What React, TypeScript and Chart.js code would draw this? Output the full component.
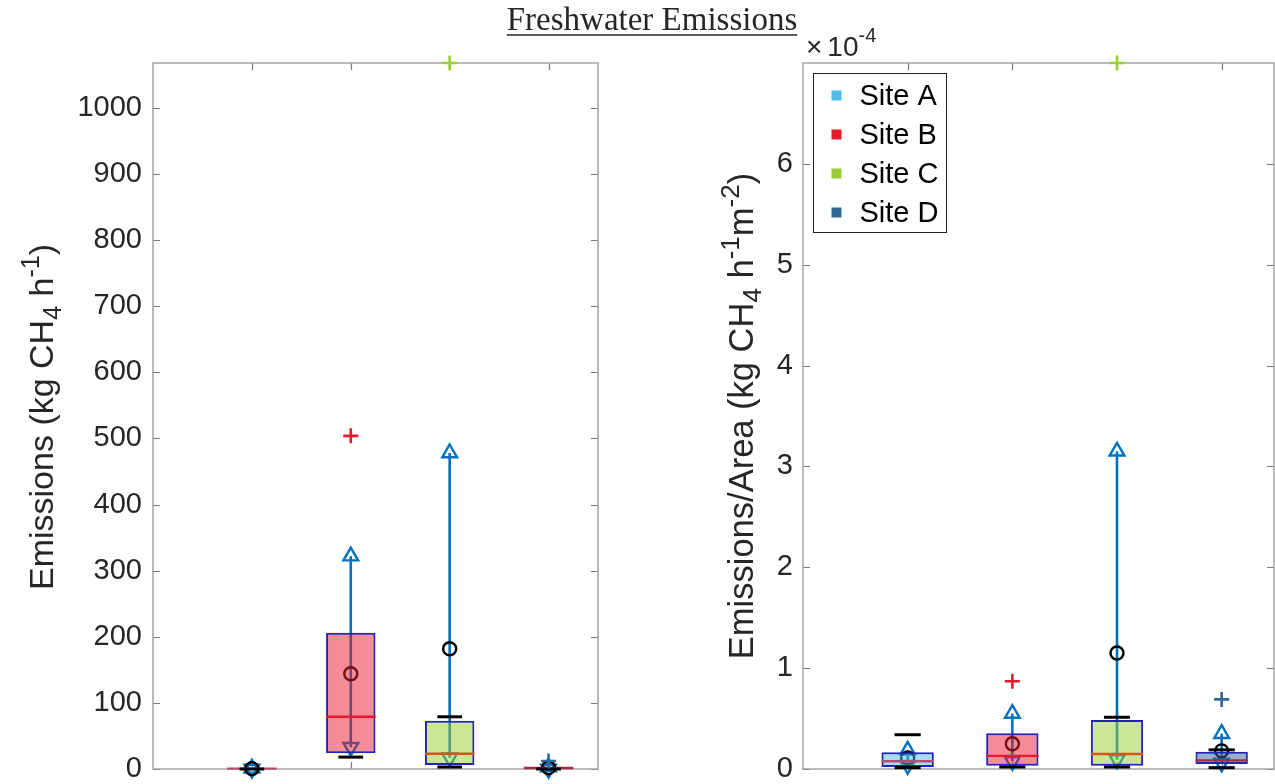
import React, { useEffect, useRef } from 'react';
import { Chart, registerables } from 'chart.js';

Chart.register(...registerables);

const W = 1275;
const H = 784;
const EXTRA = 20; // canvas extends below the clipped viewport so tick-label padding fits

// ---------- shared categories ----------
const siteNames = ['Site A', 'Site B', 'Site C', 'Site D'];
const sitePositions = [1, 2, 3, 4];
const siteColors = ['#4DBEEE', '#E8192C', '#9ACD32', '#336699'];
const medianColors = ['#B4506E', '#E8192C', '#D95319', '#A8283F'];
const xTicks = [1, 2, 3, 4];
const xMin = 0;
const xMax = 4.5;

// ---------- left panel: Emissions (kg CH4 h^-1) ----------
const emYTicks = [0, 100, 200, 300, 400, 500, 600, 700, 800, 900, 1000];
const emYMax = 1068;
const emQ1 = [0, 24, 6, 0];
const emQ3 = [1.2, 206, 73, 3];
const emMedian = [0.5, 79, 23, 1.5];
const emMean = [0.5, 144, 182, 2];
const emCiLow = [0, 33, 17, 0];
const emCiHigh = [1, 322, 478, 3];
const emCapLow = [0, 18, 3, 0];
const emCapHigh = [null, null, 79, null];
const emOutliers = [[], [504], [1068], [12]];

// ---------- right panel: Emissions/Area (kg CH4 h^-1 m^-2) ----------
const areaYTicks = [0, 1e-4, 2e-4, 3e-4, 4e-4, 5e-4, 6e-4];
const areaYMax = 7.0e-4;
const areaQ1 = [0.02e-4, 0.033e-4, 0.033e-4, 0.05e-4];
const areaQ3 = [0.165e-4, 0.355e-4, 0.487e-4, 0.17e-4];
const areaMedian = [0.077e-4, 0.13e-4, 0.149e-4, 0.086e-4];
const areaMean = [0.11e-4, 0.25e-4, 1.15e-4, 0.18e-4];
const areaCiLow = [0.037e-4, 0.077e-4, 0.093e-4, 0.06e-4];
const areaCiHigh = [0.185e-4, 0.55e-4, 3.15e-4, 0.35e-4];
const areaCapLow = [0.013e-4, 0.02e-4, 0.02e-4, 0.013e-4];
const areaCapHigh = [0.34e-4, null, 0.513e-4, 0.19e-4];
const areaOutliers = [[], [0.87e-4], [7.0e-4], [0.69e-4]];

// ---------- texts ----------
const figureTitle = 'Freshwater Emissions';
const leftYTitle = [
  { t: 'Emissions (kg CH', s: 'n' },
  { t: '4', s: 'sub' },
  { t: ' h', s: 'n' },
  { t: '-1', s: 'sup' },
  { t: ')', s: 'n' },
];
const rightYTitle = [
  { t: 'Emissions/Area (kg CH', s: 'n' },
  { t: '4', s: 'sub' },
  { t: ' h', s: 'n' },
  { t: '-1', s: 'sup' },
  { t: 'm', s: 'n' },
  { t: '-2', s: 'sup' },
  { t: ')', s: 'n' },
];

const SANS = '"Liberation Sans", Arial, Helvetica, sans-serif';
const SERIF = '"Liberation Serif", "Times New Roman", serif';
const TEXT = '#262626';
const CI_COLOR = '#0072BD';
const BOX_EDGE = '#2323B4';
const FRAME = '#9E9E9E';
const TICKMARK = '#7A7A7A';

function rgba(hex: string, a: number) {
  const n = parseInt(hex.slice(1), 16);
  return `rgba(${(n >> 16) & 255},${(n >> 8) & 255},${n & 255},${a})`;
}

const halfWidthPx = (frac: number) => (ctx: any) => {
  const xs = ctx.chart.scales.x;
  return Math.abs(xs.getPixelForValue(1 + frac) - xs.getPixelForValue(1));
};

function drawRichVertical(ctx: CanvasRenderingContext2D, parts: any[], cx: number, cy: number, size: number) {
  ctx.save();
  ctx.translate(cx, cy);
  ctx.rotate(-Math.PI / 2);
  ctx.fillStyle = TEXT;
  ctx.textBaseline = 'alphabetic';
  ctx.textAlign = 'left';
  const fontFor = (p: any) => `${p.s === 'n' ? size : Math.round(size * 0.74)}px ${SANS}`;
  let total = 0;
  const widths = parts.map((p) => {
    ctx.font = fontFor(p);
    const w = ctx.measureText(p.t).width;
    total += w;
    return w;
  });
  let x = -total / 2;
  const base = size * 0.36;
  parts.forEach((p, i) => {
    ctx.font = fontFor(p);
    let y = base;
    if (p.s === 'sub') y = base + size * 0.22;
    if (p.s === 'sup') y = base - size * 0.42;
    ctx.fillText(p.t, x, y);
    x += widths[i];
  });
  ctx.restore();
}

const framePlugin = {
  id: 'matlabFrame',
  beforeDatasetsDraw(chart: any) {
    const { ctx, chartArea } = chart;
    const { left, right, top, bottom } = chartArea;
    const ys = chart.scales.y;
    const xs = chart.scales.x;
    ctx.save();
    ctx.strokeStyle = TICKMARK;
    ctx.lineWidth = 1.2;
    ctx.beginPath();
    ys.ticks.forEach((t: any) => {
      const py = Math.round(ys.getPixelForValue(t.value)) + 0.5;
      ctx.moveTo(left, py);
      ctx.lineTo(left + 7, py);
      ctx.moveTo(right, py);
      ctx.lineTo(right - 7, py);
    });
    xs.ticks.forEach((t: any) => {
      const px = Math.round(xs.getPixelForValue(t.value)) + 0.5;
      ctx.moveTo(px, top);
      ctx.lineTo(px, top + 7);
      ctx.moveTo(px, bottom);
      ctx.lineTo(px, bottom - 7);
    });
    ctx.stroke();
    ctx.strokeStyle = FRAME;
    ctx.lineWidth = 1.4;
    ctx.strokeRect(left, top, right - left, bottom - top);
    ctx.restore();
  },
};

function makeConfig(p: any) {
  const pts = (vals: any[]) =>
    sitePositions
      .map((x, i) => ({ x, y: vals[i] }))
      .filter((d) => d.y !== null && d.y !== undefined);
  const capPts = [...pts(p.capLow), ...pts(p.capHigh)];
  const outPts: any[] = [];
  const outColors: string[] = [];
  p.outliers.forEach((arr: number[], i: number) =>
    arr.forEach((v) => {
      outPts.push({ x: sitePositions[i], y: v });
      outColors.push(siteColors[i]);
    })
  );

  const datasets: any[] = [
    ...sitePositions.map((x, i) => ({
      type: 'line',
      label: 'ci-' + siteNames[i],
      data: [
        { x, y: p.ciLow[i] },
        { x, y: p.ciHigh[i] },
      ],
      borderColor: CI_COLOR,
      borderWidth: 2.6,
      pointRadius: 0,
      clip: false,
      order: 6,
    })),
    {
      type: 'scatter',
      label: 'ciHigh',
      data: pts(p.ciHigh),
      pointStyle: 'triangle',
      pointRadius: 8.5,
      pointBorderColor: CI_COLOR,
      pointBackgroundColor: 'rgba(255,255,255,0)',
      pointBorderWidth: 2.4,
      clip: false,
      order: 5,
    },
    {
      type: 'scatter',
      label: 'ciLow',
      data: pts(p.ciLow),
      pointStyle: 'triangle',
      pointRotation: 180,
      pointRadius: 8.5,
      pointBorderColor: CI_COLOR,
      pointBackgroundColor: 'rgba(255,255,255,0)',
      pointBorderWidth: 2.4,
      clip: false,
      order: 5,
    },
    {
      type: 'scatter',
      label: 'mean',
      data: pts(p.mean),
      pointStyle: 'circle',
      pointRadius: 6.5,
      pointBorderColor: '#000000',
      pointBackgroundColor: 'rgba(255,255,255,0)',
      pointBorderWidth: 2.4,
      clip: false,
      order: 4,
    },
    {
      type: 'bar',
      label: 'box',
      data: sitePositions.map((x, i) => ({ x, y: [p.q1[i], p.q3[i]] })),
      backgroundColor: siteColors.map((c) => rgba(c, 0.5)),
      borderColor: BOX_EDGE,
      borderWidth: 2,
      borderSkipped: false,
      barPercentage: 0.5,
      categoryPercentage: 1,
      clip: false,
      order: 3,
    },
    {
      type: 'scatter',
      label: 'median',
      data: pts(p.median),
      pointStyle: 'line',
      pointRadius: halfWidthPx(0.25),
      pointBorderColor: medianColors,
      pointBorderWidth: 2.4,
      clip: false,
      order: 2,
    },
    {
      type: 'scatter',
      label: 'caps',
      data: capPts,
      pointStyle: 'line',
      pointRadius: halfWidthPx(0.125),
      pointBorderColor: '#000000',
      pointBorderWidth: 3,
      clip: false,
      order: 1,
    },
    {
      type: 'scatter',
      label: 'outliers',
      data: outPts,
      pointStyle: 'cross',
      pointRadius: 7.5,
      pointBorderColor: outColors,
      pointBorderWidth: 2.6,
      clip: false,
      order: 0,
    },
  ];

  return {
    type: 'scatter',
    data: { datasets },
    options: {
      responsive: false,
      animation: false,
      events: [],
      layout: { padding: p.padding, autoPadding: false },
      plugins: {
        legend: { display: false },
        tooltip: { enabled: false },
        title: { display: false },
      },
      scales: {
        x: {
          type: 'linear',
          min: xMin,
          max: xMax,
          offset: false,
          grid: { display: false, drawTicks: false, offset: false },
          border: { display: false },
          ticks: { display: false },
          afterBuildTicks: (s: any) => {
            s.ticks = xTicks.map((v) => ({ value: v }));
          },
          afterFit: (s: any) => {
            s.height = 15 + EXTRA;
            s.paddingLeft = 0;
            s.paddingRight = 0;
          },
        },
        y: {
          type: 'linear',
          min: 0,
          max: p.yMax,
          grid: { display: false, drawTicks: false },
          border: { display: false },
          ticks: {
            color: TEXT,
            padding: p.tickPadding,
            font: { family: SANS, size: 29, lineHeight: 1 },
            callback: p.tickFmt,
          },
          afterBuildTicks: (s: any) => {
            s.ticks = p.yTicks.map((v: number) => ({ value: v }));
          },
          afterFit: (s: any) => {
            s.width = p.yWidth;
            s.paddingLeft = 0;
            s.paddingRight = 0;
          },
        },
      },
    },
    plugins: [framePlugin, p.extraPlugin],
  };
}

const leftTextPlugin = {
  id: 'leftTexts',
  afterDraw(chart: any) {
    const { ctx, chartArea } = chart;
    drawRichVertical(ctx, leftYTitle, 41, (chartArea.top + chartArea.bottom) / 2 + 1, 34);
    // figure title
    ctx.save();
    ctx.font = `33px ${SERIF}`;
    ctx.fillStyle = TEXT;
    ctx.textAlign = 'center';
    ctx.textBaseline = 'alphabetic';
    const cx = 652;
    ctx.fillText(figureTitle, cx, 30);
    const w = ctx.measureText(figureTitle).width;
    ctx.strokeStyle = TEXT;
    ctx.lineWidth = 1.5;
    ctx.beginPath();
    ctx.moveTo(cx - w / 2, 35);
    ctx.lineTo(cx + w / 2, 35);
    ctx.stroke();
    ctx.restore();
  },
};

const rightTextPlugin = {
  id: 'rightTexts',
  afterDraw(chart: any) {
    const { ctx, chartArea } = chart;
    drawRichVertical(ctx, rightYTitle, 741, (chartArea.top + chartArea.bottom) / 2, 34.5);
    ctx.save();
    ctx.fillStyle = TEXT;
    ctx.textBaseline = 'alphabetic';
    ctx.textAlign = 'left';
    // exponent label
    const ex = chartArea.left + 3;
    const ey = chartArea.top - 7;
    ctx.font = `28px ${SANS}`;
    ctx.fillText('\u00D7', ex, ey);
    const wx = ctx.measureText('\u00D7').width;
    ctx.fillText('10', ex + wx + 5, ey);
    const w10 = ctx.measureText('10').width;
    ctx.font = `20px ${SANS}`;
    ctx.fillText('-4', ex + wx + 5 + w10, ey - 14);
    // legend
    const lx = chartArea.left + 10.5;
    const ly = chartArea.top + 10.5;
    const lw = 133;
    const lh = 159;
    ctx.fillStyle = '#FFFFFF';
    ctx.fillRect(lx, ly, lw, lh);
    ctx.strokeStyle = '#262626';
    ctx.lineWidth = 1;
    ctx.strokeRect(lx, ly, lw, lh);
    ctx.font = `29px ${SANS}`;
    ctx.textBaseline = 'middle';
    siteNames.forEach((name, i) => {
      const cy = ly + 22 + i * 39;
      ctx.fillStyle = siteColors[i];
      ctx.fillRect(lx + 18, cy - 5, 10, 10);
      ctx.fillStyle = '#000000';
      ctx.fillText(name, lx + 46, cy + 1);
    });
    ctx.restore();
  },
};

export default function App() {
  const leftRef = useRef<HTMLCanvasElement>(null);
  const rightRef = useRef<HTMLCanvasElement>(null);

  useEffect(() => {
    const left = new Chart(
      leftRef.current as HTMLCanvasElement,
      makeConfig({
        q1: emQ1,
        q3: emQ3,
        median: emMedian,
        mean: emMean,
        ciLow: emCiLow,
        ciHigh: emCiHigh,
        capLow: emCapLow,
        capHigh: emCapHigh,
        outliers: emOutliers,
        yTicks: emYTicks,
        yMax: emYMax,
        tickFmt: (v: number) => String(v),
        padding: { left: 0, right: W - 598, top: 63, bottom: 0 },
        yWidth: 153,
        tickPadding: 11,
        extraPlugin: leftTextPlugin,
      }) as any
    );
    const right = new Chart(
      rightRef.current as HTMLCanvasElement,
      makeConfig({
        q1: areaQ1,
        q3: areaQ3,
        median: areaMedian,
        mean: areaMean,
        ciLow: areaCiLow,
        ciHigh: areaCiHigh,
        capLow: areaCapLow,
        capHigh: areaCapHigh,
        outliers: areaOutliers,
        yTicks: areaYTicks,
        yMax: areaYMax,
        tickFmt: (v: number) => String(Math.round(v * 1e4)),
        padding: { left: 0, right: 1, top: 63, bottom: 0 },
        yWidth: 803,
        tickPadding: 10,
        extraPlugin: rightTextPlugin,
      }) as any
    );
    return () => {
      left.destroy();
      right.destroy();
    };
  }, []);

  return (
    <div
      style={{
        position: 'fixed',
        left: 0,
        top: 0,
        width: W,
        height: H,
        overflow: 'hidden',
        background: '#FFFFFF',
      }}
    >
      <canvas ref={leftRef} width={W} height={H + EXTRA} style={{ position: 'absolute', left: 0, top: 0 }} />
      <canvas ref={rightRef} width={W} height={H + EXTRA} style={{ position: 'absolute', left: 0, top: 0 }} />
    </div>
  );
}
